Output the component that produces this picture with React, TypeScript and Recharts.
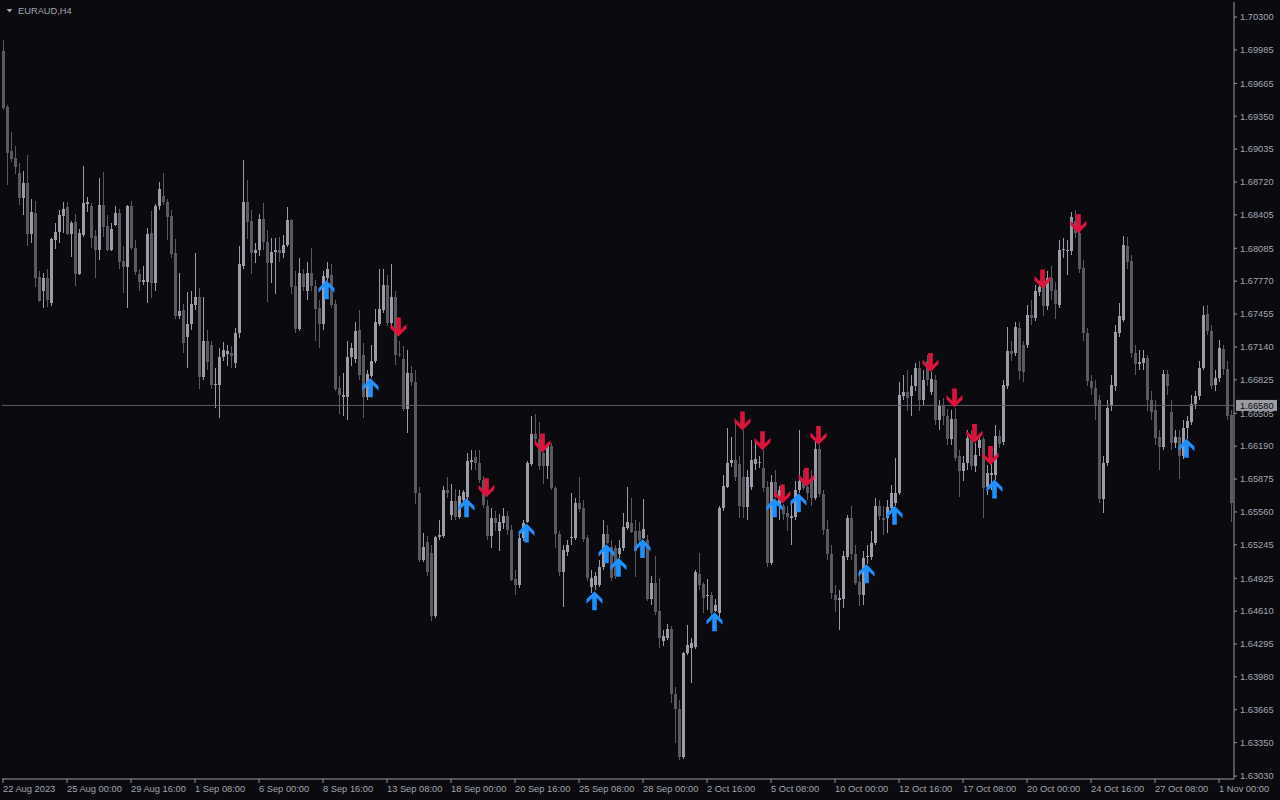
import React from 'react';
import { ComposedChart, Bar, Scatter, XAxis, YAxis, ReferenceLine } from 'recharts';

const opens = [
1.6997,1.6944,1.6902,1.6895,1.6881,1.6857,1.6871,1.6822,1.6842,1.6781,
1.6768,1.6780,1.6756,1.6816,1.6824,1.6839,1.6848,1.6822,1.6834,1.6784,
1.6821,1.6851,1.6849,1.6820,1.6807,1.6850,1.6830,1.6807,1.6831,1.6842,
1.6796,1.6791,1.6849,1.6809,1.6784,1.6776,1.6776,1.6823,1.6775,1.6849,
1.6859,1.6853,1.6839,1.6804,1.6744,1.6749,1.6724,1.6736,1.6754,1.6762,
1.6685,1.6720,1.6716,1.6678,1.6678,1.6704,1.6707,1.6708,1.6699,1.6727,
1.6792,1.6853,1.6835,1.6804,1.6807,1.6837,1.6815,1.6794,1.6805,1.6807,
1.6804,1.6812,1.6836,1.6772,1.6731,1.6784,1.6768,1.6785,1.6772,1.6751,
1.6736,1.6780,1.6783,1.6755,1.6675,1.6666,1.6666,1.6704,1.6702,1.6730,
1.6706,1.6666,1.6686,1.6701,1.6736,1.6749,1.6773,1.6737,1.6762,1.6707,
1.6702,1.6655,1.6689,1.6680,1.6574,1.6510,1.6527,1.6517,1.6456,1.6532,
1.6533,1.6577,1.6553,1.6566,1.6551,1.6567,1.6570,1.6604,1.6609,1.6603,
1.6587,1.6562,1.6533,1.6550,1.6538,1.6545,1.6552,1.6539,1.6492,1.6486,
1.6531,1.6546,1.6602,1.6631,1.6626,1.6612,1.6600,1.6619,1.6579,1.6535,
1.6498,1.6518,1.6531,1.6531,1.6565,1.6560,1.6531,1.6484,1.6486,1.6486,
1.6503,1.6535,1.6522,1.6521,1.6516,1.6521,1.6541,1.6545,1.6538,1.6538,
1.6531,1.6529,1.6473,1.6488,1.6461,1.6432,1.6435,1.6444,1.6382,1.6367,
1.6321,1.6421,1.6426,1.6427,1.6497,1.6487,1.6475,1.6476,1.6461,1.6459,
1.6560,1.6580,1.6603,1.6606,1.6602,1.6589,1.6561,1.6580,1.6602,1.6603,
1.6598,1.6580,1.6507,1.6585,1.6562,1.6562,1.6555,1.6550,1.6551,1.6577,
1.6586,1.6580,1.6588,1.6569,1.6616,1.6573,1.6540,1.6516,1.6476,1.6472,
1.6473,1.6513,1.6550,1.6516,1.6489,1.6476,1.6513,1.6513,1.6526,1.6562,
1.6550,1.6550,1.6560,1.6565,1.6574,1.6667,1.6671,1.6667,1.6677,1.6694,
1.6663,1.6701,1.6671,1.6682,1.6644,1.6657,1.6648,1.6626,1.6645,1.6610,
1.6595,1.6603,1.6627,1.6600,1.6617,1.6626,1.6580,1.6591,1.6591,1.6629,
1.6623,1.6677,1.6710,1.6708,1.6732,1.6716,1.6716,1.6745,1.6742,1.6767,
1.6778,1.6753,1.6780,1.6769,1.6754,1.6807,1.6806,1.6806,1.6835,1.6823,
1.6790,1.6727,1.6681,1.6675,1.6663,1.6568,1.6603,1.6657,1.6677,1.6727,
1.6740,1.6811,1.6796,1.6708,1.6698,1.6699,1.6703,1.6663,1.6654,1.6628,
1.6618,1.6688,1.6652,1.6622,1.6628,1.6610,1.6636,1.6642,1.6659,1.6667,
1.6694,1.6746,1.6729,1.6678,1.6684,1.6712,1.6693,1.6649,
];

const highs = [
1.7008,1.6946,1.6920,1.6906,1.6890,1.6883,1.6898,1.6856,1.6854,1.6787,
1.6785,1.6789,1.6818,1.6833,1.6845,1.6853,1.6853,1.6835,1.6841,1.6827,
1.6887,1.6858,1.6852,1.6826,1.6876,1.6882,1.6840,1.6833,1.6849,1.6846,
1.6811,1.6850,1.6854,1.6816,1.6789,1.6792,1.6828,1.6844,1.6851,1.6872,
1.6881,1.6856,1.6845,1.6817,1.6785,1.6755,1.6767,1.6768,1.6804,1.6770,
1.6762,1.6730,1.6720,1.6694,1.6713,1.6719,1.6716,1.6715,1.6732,1.6811,
1.6893,1.6874,1.6845,1.6814,1.6841,1.6852,1.6826,1.6818,1.6818,1.6819,
1.6821,1.6848,1.6837,1.6787,1.6799,1.6789,1.6795,1.6809,1.6778,1.6759,
1.6787,1.6795,1.6793,1.6759,1.6686,1.6689,1.6720,1.6718,1.6738,1.6749,
1.6718,1.6692,1.6716,1.6750,1.6789,1.6789,1.6783,1.6793,1.6768,1.6720,
1.6715,1.6711,1.6696,1.6692,1.6580,1.6536,1.6533,1.6524,1.6533,1.6548,
1.6581,1.6589,1.6583,1.6578,1.6577,1.6577,1.6612,1.6615,1.6615,1.6615,
1.6590,1.6567,1.6560,1.6557,1.6554,1.6560,1.6557,1.6543,1.6500,1.6534,
1.6548,1.6605,1.6648,1.6650,1.6642,1.6613,1.6622,1.6622,1.6581,1.6538,
1.6524,1.6529,1.6574,1.6569,1.6589,1.6567,1.6534,1.6500,1.6498,1.6510,
1.6548,1.6543,1.6529,1.6524,1.6529,1.6555,1.6580,1.6569,1.6548,1.6546,
1.6568,1.6534,1.6495,1.6514,1.6493,1.6443,1.6449,1.6447,1.6388,1.6376,
1.6422,1.6448,1.6435,1.6500,1.6517,1.6489,1.6492,1.6479,1.6473,1.6562,
1.6591,1.6636,1.6628,1.6641,1.6610,1.6634,1.6596,1.6625,1.6625,1.6610,
1.6615,1.6586,1.6591,1.6596,1.6581,1.6564,1.6562,1.6567,1.6586,1.6634,
1.6596,1.6581,1.6596,1.6625,1.6620,1.6577,1.6548,1.6524,1.6486,1.6481,
1.6519,1.6553,1.6562,1.6524,1.6500,1.6519,1.6524,1.6538,1.6569,1.6567,
1.6562,1.6567,1.6582,1.6608,1.6680,1.6687,1.6692,1.6687,1.6699,1.6701,
1.6692,1.6706,1.6690,1.6687,1.6663,1.6665,1.6655,1.6654,1.6656,1.6615,
1.6610,1.6634,1.6634,1.6622,1.6629,1.6628,1.6601,1.6602,1.6639,1.6634,
1.6682,1.6733,1.6720,1.6738,1.6738,1.6720,1.6754,1.6759,1.6773,1.6777,
1.6783,1.6787,1.6792,1.6776,1.6816,1.6818,1.6816,1.6843,1.6845,1.6828,
1.6797,1.6732,1.6687,1.6682,1.6668,1.6610,1.6663,1.6687,1.6735,1.6756,
1.6820,1.6819,1.6802,1.6716,1.6711,1.6711,1.6706,1.6672,1.6663,1.6634,
1.6692,1.6692,1.6663,1.6634,1.6634,1.6644,1.6648,1.6668,1.6672,1.6701,
1.6753,1.6754,1.6735,1.6692,1.6721,1.6716,1.6701,1.6654,
];

const lows = [
1.6941,1.6869,1.6891,1.6880,1.6850,1.6840,1.6811,1.6814,1.6771,1.6757,
1.6751,1.6752,1.6753,1.6808,1.6814,1.6823,1.6821,1.6800,1.6772,1.6783,
1.6819,1.6843,1.6809,1.6780,1.6797,1.6819,1.6806,1.6806,1.6830,1.6789,
1.6766,1.6751,1.6807,1.6783,1.6768,1.6773,1.6756,1.6761,1.6768,1.6845,
1.6850,1.6816,1.6799,1.6741,1.6741,1.6708,1.6694,1.6730,1.6749,1.6674,
1.6682,1.6692,1.6674,1.6656,1.6646,1.6701,1.6696,1.6694,1.6694,1.6723,
1.6789,1.6817,1.6784,1.6794,1.6801,1.6807,1.6757,1.6775,1.6765,1.6795,
1.6799,1.6810,1.6765,1.6727,1.6729,1.6768,1.6759,1.6768,1.6720,1.6713,
1.6730,1.6777,1.6751,1.6672,1.6650,1.6648,1.6644,1.6696,1.6699,1.6682,
1.6646,1.6663,1.6684,1.6699,1.6734,1.6747,1.6734,1.6734,1.6697,1.6704,
1.6653,1.6632,1.6677,1.6564,1.6508,1.6508,1.6495,1.6452,1.6454,1.6529,
1.6531,1.6569,1.6548,1.6548,1.6549,1.6562,1.6568,1.6596,1.6596,1.6584,
1.6560,1.6529,1.6521,1.6538,1.6519,1.6540,1.6534,1.6490,1.6476,1.6483,
1.6528,1.6545,1.6600,1.6623,1.6596,1.6583,1.6588,1.6577,1.6521,1.6495,
1.6465,1.6514,1.6524,1.6529,1.6556,1.6527,1.6490,1.6478,1.6481,1.6484,
1.6500,1.6525,1.6490,1.6492,1.6512,1.6519,1.6539,1.6536,1.6494,1.6524,
1.6530,1.6471,1.6467,1.6457,1.6426,1.6428,1.6433,1.6373,1.6335,1.6318,
1.6319,1.6419,1.6392,1.6425,1.6481,1.6459,1.6462,1.6454,1.6460,1.6455,
1.6557,1.6579,1.6599,1.6586,1.6550,1.6550,1.6548,1.6577,1.6596,1.6598,
1.6575,1.6503,1.6505,1.6569,1.6548,1.6548,1.6538,1.6524,1.6548,1.6574,
1.6577,1.6567,1.6562,1.6567,1.6570,1.6534,1.6510,1.6473,1.6460,1.6443,
1.6464,1.6510,1.6510,1.6486,1.6466,1.6467,1.6506,1.6510,1.6524,1.6548,
1.6534,1.6536,1.6558,1.6562,1.6572,1.6663,1.6653,1.6648,1.6672,1.6653,
1.6658,1.6677,1.6668,1.6639,1.6634,1.6639,1.6620,1.6620,1.6605,1.6570,
1.6586,1.6596,1.6596,1.6594,1.6610,1.6550,1.6572,1.6577,1.6587,1.6617,
1.6620,1.6674,1.6701,1.6705,1.6682,1.6680,1.6713,1.6735,1.6739,1.6763,
1.6744,1.6749,1.6759,1.6741,1.6751,1.6799,1.6783,1.6802,1.6818,1.6785,
1.6720,1.6677,1.6668,1.6644,1.6565,1.6555,1.6600,1.6653,1.6672,1.6724,
1.6738,1.6789,1.6703,1.6687,1.6692,1.6692,1.6653,1.6644,1.6620,1.6596,
1.6615,1.6668,1.6615,1.6617,1.6588,1.6607,1.6626,1.6639,1.6655,1.6663,
1.6692,1.6725,1.6674,1.6672,1.6680,1.6687,1.6644,1.6546,
];

const closes = [
1.6943,1.6900,1.6894,1.6886,1.6857,1.6871,1.6822,1.6843,1.6780,1.6758,
1.6780,1.6759,1.6817,1.6824,1.6840,1.6846,1.6822,1.6833,1.6784,1.6823,
1.6852,1.6853,1.6818,1.6807,1.6850,1.6829,1.6807,1.6827,1.6842,1.6795,
1.6791,1.6849,1.6809,1.6786,1.6776,1.6778,1.6822,1.6775,1.6849,1.6865,
1.6853,1.6838,1.6803,1.6744,1.6748,1.6718,1.6736,1.6755,1.6762,1.6685,
1.6720,1.6700,1.6678,1.6679,1.6704,1.6711,1.6710,1.6705,1.6727,1.6793,
1.6853,1.6834,1.6804,1.6807,1.6837,1.6815,1.6794,1.6805,1.6807,1.6804,
1.6812,1.6836,1.6771,1.6731,1.6785,1.6771,1.6785,1.6772,1.6750,1.6736,
1.6782,1.6789,1.6754,1.6674,1.6668,1.6668,1.6704,1.6713,1.6729,1.6687,
1.6666,1.6688,1.6701,1.6738,1.6750,1.6773,1.6737,1.6762,1.6706,1.6706,
1.6655,1.6689,1.6680,1.6574,1.6510,1.6522,1.6498,1.6456,1.6532,1.6534,
1.6577,1.6574,1.6566,1.6551,1.6571,1.6575,1.6605,1.6606,1.6603,1.6587,
1.6563,1.6533,1.6550,1.6545,1.6546,1.6552,1.6539,1.6491,1.6486,1.6531,
1.6545,1.6603,1.6631,1.6626,1.6600,1.6600,1.6619,1.6579,1.6535,1.6498,
1.6520,1.6524,1.6532,1.6565,1.6559,1.6530,1.6493,1.6493,1.6495,1.6503,
1.6535,1.6526,1.6493,1.6495,1.6521,1.6542,1.6546,1.6537,1.6519,1.6529,
1.6540,1.6473,1.6488,1.6460,1.6435,1.6437,1.6444,1.6382,1.6367,1.6321,
1.6421,1.6429,1.6430,1.6498,1.6486,1.6474,1.6476,1.6459,1.6467,1.6560,
1.6581,1.6603,1.6606,1.6589,1.6562,1.6561,1.6589,1.6606,1.6607,1.6604,
1.6579,1.6507,1.6585,1.6570,1.6577,1.6554,1.6551,1.6552,1.6577,1.6586,
1.6579,1.6574,1.6569,1.6616,1.6573,1.6539,1.6516,1.6478,1.6472,1.6474,
1.6514,1.6550,1.6516,1.6488,1.6476,1.6512,1.6514,1.6526,1.6562,1.6552,
1.6548,1.6561,1.6574,1.6574,1.6668,1.6671,1.6665,1.6677,1.6694,1.6663,
1.6682,1.6682,1.6683,1.6644,1.6657,1.6648,1.6626,1.6645,1.6608,1.6595,
1.6603,1.6627,1.6600,1.6611,1.6625,1.6579,1.6593,1.6593,1.6629,1.6621,
1.6678,1.6710,1.6707,1.6733,1.6691,1.6690,1.6745,1.6742,1.6768,1.6771,
1.6753,1.6780,1.6768,1.6755,1.6807,1.6808,1.6807,1.6838,1.6823,1.6789,
1.6727,1.6681,1.6675,1.6658,1.6568,1.6603,1.6656,1.6678,1.6728,1.6744,
1.6812,1.6795,1.6708,1.6698,1.6700,1.6703,1.6663,1.6652,1.6627,1.6618,
1.6688,1.6677,1.6622,1.6628,1.6610,1.6636,1.6643,1.6659,1.6667,1.6694,
1.6745,1.6729,1.6677,1.6684,1.6713,1.6693,1.6648,1.6565,
];

const buyIdx = [81, 92, 116, 131, 148, 151, 154, 160, 178, 193, 199, 216, 223, 248, 296];
const buyPrice = [1.6778, 1.6684, 1.6569, 1.6545, 1.648, 1.6525, 1.6512, 1.653, 1.646, 1.6569, 1.6574, 1.6506, 1.6562, 1.6587, 1.6626];
const sellIdx = [99, 121, 135, 185, 190, 195, 201, 204, 232, 238, 243, 247, 260, 269];
const sellPrice = [1.6724, 1.657, 1.6613, 1.6634, 1.6615, 1.6564, 1.658, 1.662, 1.669, 1.6656, 1.6622, 1.6601, 1.677, 1.6823];

const timeTickIdx = [0, 16, 32, 48, 64, 80, 96, 112, 128, 144, 160, 176, 192, 208, 224, 240, 256, 272, 288, 304];
const timeLabels = [
  '22 Aug 2023', '25 Aug 00:00', '29 Aug 16:00', '1 Sep 08:00', '6 Sep 00:00', '8 Sep 16:00',
  '13 Sep 08:00', '18 Sep 00:00', '20 Sep 16:00', '25 Sep 08:00', '28 Sep 00:00', '2 Oct 16:00',
  '5 Oct 08:00', '10 Oct 00:00', '12 Oct 16:00', '17 Oct 08:00', '20 Oct 00:00', '24 Oct 16:00',
  '27 Oct 08:00', '1 Nov 00:00',
];
const priceLabels = [
  '1.70300', '1.69985', '1.69665', '1.69350', '1.69035', '1.68720', '1.68405', '1.68085',
  '1.67770', '1.67455', '1.67140', '1.66825', '1.66505', '1.66190', '1.65875', '1.65560',
  '1.65245', '1.64925', '1.64610', '1.64295', '1.63980', '1.63665', '1.63350', '1.63030',
];
const bidPrice = 1.6658;
const symbolTitle = 'EURAUD,H4';

const priceTicks = priceLabels.map((s) => parseFloat(s));
const candles = opens.map((o, i) => ({
  i,
  o,
  h: highs[i],
  l: lows[i],
  c: closes[i],
  range: [lows[i], highs[i]],
}));
const buyData = buyIdx.map((i, k) => ({ i, p: buyPrice[k] }));
const sellData = sellIdx.map((i, k) => ({ i, p: sellPrice[k] }));

const BG = '#0a0a0f';
const UPC = '#9c9ca8';
const DNC = '#5a5a60';
const AXIS = '#9a9aa0';
const TXT = '#a2a6b0';
const FONT = '"Liberation Sans", Arial, sans-serif';

function Candle(props: any) {
  const { x, y, width, height, payload } = props;
  if (x == null || y == null || !payload) return null;
  const top = Math.min(y, y + height);
  const bot = Math.max(y, y + height);
  const { o, h, l, c } = payload;
  const span = h - l;
  const py = (v: number) => (span > 0 ? top + ((h - v) / span) * (bot - top) : top);
  const cx = Math.round(x + width / 2);
  const col = c >= o ? UPC : DNC;
  const bt = Math.round(py(Math.max(o, c)));
  const bb = Math.round(py(Math.min(o, c)));
  const wt = Math.round(top);
  const wb = Math.round(bot);
  return (
    <g>
      <rect x={cx} y={wt} width={1} height={Math.max(1, wb - wt)} fill={col} shapeRendering="crispEdges" />
      <rect x={cx - 1} y={bt} width={3} height={Math.max(1, bb - bt)} fill={col} shapeRendering="crispEdges" />
    </g>
  );
}

function BuyArrow(props: any) {
  const { cx, cy } = props;
  if (cx == null || cy == null) return null;
  const x = cx - 0.5;
  const y = cy;
  const d = `M${x},${y} L${x + 8},${y + 8} L${x + 8},${y + 12.5} L${x + 2.3},${y + 6.8} L${x + 2.3},${y + 19} L${x - 2.3},${y + 19} L${x - 2.3},${y + 6.8} L${x - 8},${y + 12.5} L${x - 8},${y + 8} Z`;
  return <path d={d} fill="#1e90ff" />;
}

function SellArrow(props: any) {
  const { cx, cy } = props;
  if (cx == null || cy == null) return null;
  const x = cx - 0.5;
  const y = cy;
  const d = `M${x},${y} L${x + 8},${y - 8} L${x + 8},${y - 12.5} L${x + 2.3},${y - 6.8} L${x + 2.3},${y - 19} L${x - 2.3},${y - 19} L${x - 2.3},${y - 6.8} L${x - 8},${y - 12.5} L${x - 8},${y - 8} Z`;
  return <path d={d} fill="#dc143c" />;
}

function TimeTick(props: any) {
  const { x, y, payload } = props;
  const k = timeTickIdx.indexOf(payload.value);
  if (k < 0) return null;
  return (
    <text x={x} y={y + 9} fill={TXT} fontSize={9.3} fontFamily={FONT} textAnchor="start">
      {timeLabels[k]}
    </text>
  );
}

function PriceTick(props: any) {
  const { x, y, payload } = props;
  const k = priceTicks.indexOf(payload.value);
  return (
    <text x={x + 3} y={y + 3.3} fill={TXT} fontSize={9.3} fontFamily={FONT} textAnchor="start">
      {k >= 0 ? priceLabels[k] : String(payload.value)}
    </text>
  );
}

function BidLabel(props: any) {
  const vb = props.viewBox || {};
  const x = (vb.x ?? 0) + (vb.width ?? 0) + 2;
  const y = vb.y ?? 0;
  return (
    <g>
      <rect x={x} y={y - 5.5} width={41} height={11} fill="#9c9ca4" />
      <text x={x + 4} y={y + 3.3} fill="#0a0a0f" fontSize={9.3} fontFamily={FONT}>
        {bidPrice.toFixed(5)}
      </text>
    </g>
  );
}

export default function App() {
  return (
    <div style={{ position: 'fixed', left: 0, top: 0, width: 1280, height: 800, background: BG, overflow: 'hidden' }}>
      <ComposedChart
        width={1280}
        height={800}
        data={candles}
        margin={{ top: 2, right: 0, bottom: 0, left: 2 }}
        style={{ background: BG }}
      >
        <XAxis
          dataKey="i"
          type="number"
          domain={[-0.25, 307.75]}
          allowDataOverflow
          ticks={timeTickIdx}
          interval={0}
          height={21}
          tickSize={4}
          tickMargin={0}
          axisLine={{ stroke: AXIS }}
          tickLine={{ stroke: AXIS }}
          tick={<TimeTick />}
        />
        <XAxis
          xAxisId="top"
          orientation="top"
          type="number"
          domain={[0, 1]}
          height={0}
          tick={false}
          tickLine={false}
          axisLine={{ stroke: AXIS }}
        />
        <YAxis
          yAxisId="left"
          orientation="left"
          type="number"
          domain={[0, 1]}
          width={0}
          tick={false}
          tickLine={false}
          axisLine={{ stroke: AXIS }}
        />
        <YAxis
          yAxisId="p"
          orientation="right"
          type="number"
          domain={[1.63002, 1.70444]}
          allowDataOverflow
          ticks={priceTicks}
          interval={0}
          width={46}
          tickSize={3}
          tickMargin={0}
          axisLine={{ stroke: AXIS }}
          tickLine={{ stroke: AXIS }}
          tick={<PriceTick />}
        />
        <ReferenceLine yAxisId="p" y={bidPrice} stroke="#5c5c64" label={<BidLabel />} />
        <Bar yAxisId="p" dataKey="range" barSize={4} shape={<Candle />} isAnimationActive={false} />
        <Scatter yAxisId="p" data={buyData} dataKey="p" shape={<BuyArrow />} isAnimationActive={false} />
        <Scatter yAxisId="p" data={sellData} dataKey="p" shape={<SellArrow />} isAnimationActive={false} />
      </ComposedChart>
      <svg width={120} height={20} style={{ position: 'absolute', left: 0, top: 0 }}>
        <path d="M6.5,9 L12.5,9 L9.5,12.5 Z" fill={TXT} />
        <text x={18} y={14} fill={TXT} fontSize={9.3} fontFamily={FONT}>
          {symbolTitle}
        </text>
      </svg>
    </div>
  );
}
